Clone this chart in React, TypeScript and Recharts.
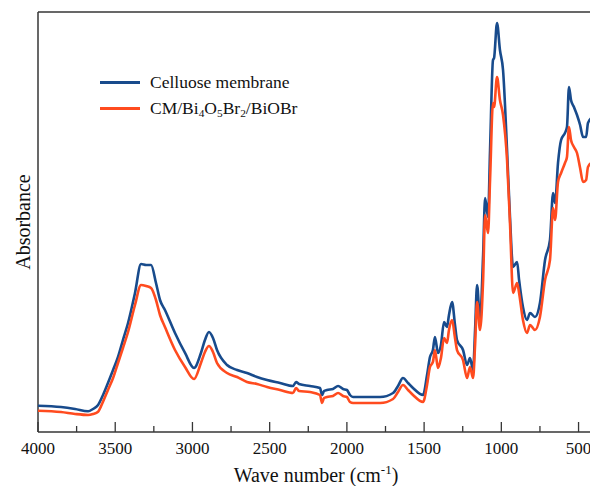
import React from 'react';
import { LineChart, Line, XAxis, YAxis, ReferenceLine, Legend } from 'recharts';

// wave numbers (cm-1)
const waveNumbers = [
  4000, 3851, 3760, 3676, 3644, 3611, 3579, 3547, 3514, 3482,
  3450, 3417, 3372, 3333, 3300, 3268, 3236, 3210, 3178, 3113,
  3048, 2990, 2945, 2919, 2893, 2867, 2841, 2776, 2711, 2647,
  2582, 2517, 2433, 2349, 2329, 2310, 2239, 2174, 2161, 2148,
  2129, 2090, 2057, 2025, 2000, 1980, 1960, 1882, 1785, 1701,
  1669, 1637, 1604, 1572, 1507, 1481, 1462, 1443, 1430, 1410,
  1391, 1371, 1352, 1339, 1319, 1300, 1287, 1248, 1222, 1203,
  1183, 1170, 1157, 1138, 1118, 1105, 1086, 1073, 1054, 1047,
  1028, 1009, 989, 963, 944, 924, 898, 885, 860, 834,
  814, 782, 750, 717, 685, 665, 652, 633, 613, 588,
  575, 562, 549, 530, 510, 490, 471, 451, 439, 413, 400,
];

const celluloseMembrane = [
  0.0626, 0.0595, 0.0548, 0.0493, 0.0548, 0.0643, 0.0881, 0.1167, 0.1476, 0.1786,
  0.219, 0.2595, 0.331, 0.4, 0.3976, 0.3976, 0.3548, 0.3143, 0.2905, 0.2357,
  0.1881, 0.1524, 0.1881, 0.219, 0.2381, 0.2238, 0.1952, 0.1595, 0.1476, 0.1405,
  0.131, 0.1238, 0.1167, 0.1095, 0.119, 0.1143, 0.1095, 0.1048, 0.0881, 0.0976,
  0.1, 0.1024, 0.1095, 0.1024, 0.1, 0.0881, 0.0833, 0.0833, 0.0833, 0.0929,
  0.1095, 0.1286, 0.1167, 0.1048, 0.0881, 0.1357, 0.1786, 0.1952, 0.2262, 0.1881,
  0.2071, 0.2619, 0.25, 0.2786, 0.3095, 0.2548, 0.219, 0.1952, 0.1595, 0.1762,
  0.1476, 0.2429, 0.35, 0.2667, 0.4214, 0.5571, 0.5119, 0.6714, 0.8857, 0.8905,
  0.9738, 0.9095, 0.8619, 0.6714, 0.5119, 0.3929, 0.4048, 0.3619, 0.2976, 0.2667,
  0.2833, 0.2738, 0.3071, 0.4095, 0.4571, 0.569, 0.5452, 0.6405, 0.6952, 0.7119,
  0.7262, 0.8214, 0.7905, 0.7738, 0.7548, 0.731, 0.7024, 0.7024, 0.7357, 0.7476, 0.7476,
];

const composite = [
  0.0507, 0.0476, 0.0429, 0.0405, 0.0429, 0.0483, 0.0721, 0.1, 0.1286, 0.1643,
  0.2, 0.2381, 0.3024, 0.35, 0.3476, 0.3429, 0.3143, 0.2786, 0.25, 0.1952,
  0.1548, 0.1262, 0.1643, 0.1905, 0.2048, 0.1905, 0.1643, 0.1405, 0.131, 0.119,
  0.1143, 0.1071, 0.1, 0.0929, 0.1048, 0.0976, 0.0952, 0.0881, 0.069, 0.081,
  0.0833, 0.0857, 0.0929, 0.0857, 0.0833, 0.0714, 0.069, 0.069, 0.069, 0.0786,
  0.0952, 0.1119, 0.1, 0.0881, 0.0714, 0.1119, 0.1548, 0.1667, 0.1952, 0.1524,
  0.1762, 0.2238, 0.2119, 0.2429, 0.2667, 0.2238, 0.1952, 0.1714, 0.1286, 0.1548,
  0.1286, 0.2071, 0.3095, 0.2429, 0.3619, 0.5167, 0.4738, 0.6, 0.7833, 0.7738,
  0.8452, 0.7905, 0.7548, 0.6476, 0.4976, 0.331, 0.3548, 0.331, 0.2667, 0.2357,
  0.2548, 0.2429, 0.2738, 0.3619, 0.4095, 0.5333, 0.5048, 0.5952, 0.6167, 0.6405,
  0.6548, 0.7262, 0.6952, 0.6786, 0.6643, 0.6286, 0.5952, 0.6, 0.631, 0.6405, 0.6405,
];

const xTicks = [4000, 3750, 3500, 3250, 3000, 2750, 2500, 2250, 2000, 1750, 1500, 1250, 1000, 750, 500];
const seriesNames = ['Celluose membrane', 'CM/Bi4O5Br2/BiOBr'];
const seriesColors = ['#184b8c', '#ff4b1f'];

const data = waveNumbers.map((wn, i) => ({ wn, cm: celluloseMembrane[i], comp: composite[i] }));

const FONT = '"Liberation Serif", "Times New Roman", serif';
const AXIS = '#363636';

// digits after letters become subscripts
function formula(name: string) {
  return name.split(/(\d+)/).map((part, i) =>
    /^\d+$/.test(part) ? <sub key={i} style={{ fontSize: '0.65em', verticalAlign: '-0.3em' }}>{part}</sub> : <span key={i}>{part}</span>
  );
}

const XTick = (props: any) => {
  const { x, y, payload } = props;
  const major = payload.value % 500 === 0;
  return (
    <g>
      <line x1={x} x2={x} y1={y} y2={y - (major ? 10 : 6)} stroke={AXIS} strokeWidth={1.3} />
      {major && (
        <text x={x} y={y + 22} textAnchor="middle" fontSize={17} fill="#111" fontFamily={FONT}>
          {payload.value}
        </text>
      )}
    </g>
  );
};

const XLabel = (props: any) => {
  const vb = props.viewBox;
  return (
    <text x={vb.x + vb.width / 2} y={482} textAnchor="middle" fontSize={20} fill="#111" fontFamily={FONT}>
      Wave number (cm<tspan dy={-8} fontSize={13}>-1</tspan><tspan dy={8}>)</tspan>
    </text>
  );
};

const LegendBox = () => (
  <div style={{ fontFamily: FONT, fontSize: 17.5, color: '#111' }}>
    {seriesNames.map((n, i) => (
      <div key={n} style={{ display: 'flex', alignItems: 'center', height: 25.5 }}>
        <div style={{ width: 40, height: 3, background: seriesColors[i], marginRight: 10 }} />
        <span style={{ whiteSpace: 'nowrap' }}>{formula(n)}</span>
      </div>
    ))}
  </div>
);

export default function App() {
  return (
    <div style={{ position: 'absolute', left: 0, top: 0, width: 590, height: 486, overflow: 'hidden', background: '#fff' }}>
      <LineChart width={600} height={486} data={data} margin={{ top: 12, right: 6, left: 38, bottom: 0 }}>
        <XAxis
          dataKey="wn"
          type="number"
          domain={[400, 4000]}
          reversed
          ticks={xTicks}
          interval={0}
          height={54}
          tickSize={0}
          tickMargin={0}
          tickLine={false}
          axisLine={{ stroke: AXIS, strokeWidth: 1.5 }}
          tick={<XTick />}
          label={<XLabel />}
        />
        <YAxis hide domain={[0, 1]} />
        <ReferenceLine x={4000} stroke={AXIS} strokeWidth={1.5} />
        <ReferenceLine y={1} stroke={AXIS} strokeWidth={1.5} />
        <Legend
          layout="vertical"
          align="center"
          verticalAlign="middle"
          content={<LegendBox />}
          wrapperStyle={{ position: 'absolute', left: 100, top: 70, width: 'auto' }}
        />
        <Line dataKey="cm" name={seriesNames[0]} type="monotone" stroke={seriesColors[0]} strokeWidth={2.6} strokeLinejoin="round" dot={false} isAnimationActive={false} />
        <Line dataKey="comp" name={seriesNames[1]} type="monotone" stroke={seriesColors[1]} strokeWidth={2.6} strokeLinejoin="round" dot={false} isAnimationActive={false} />
      </LineChart>
      <div
        style={{
          position: 'absolute', left: 23, top: 222, transform: 'translate(-50%, -50%) rotate(-90deg)',
          fontFamily: FONT, fontSize: 20, color: '#111', whiteSpace: 'nowrap',
        }}
      >
        Absorbance
      </div>
    </div>
  );
}
